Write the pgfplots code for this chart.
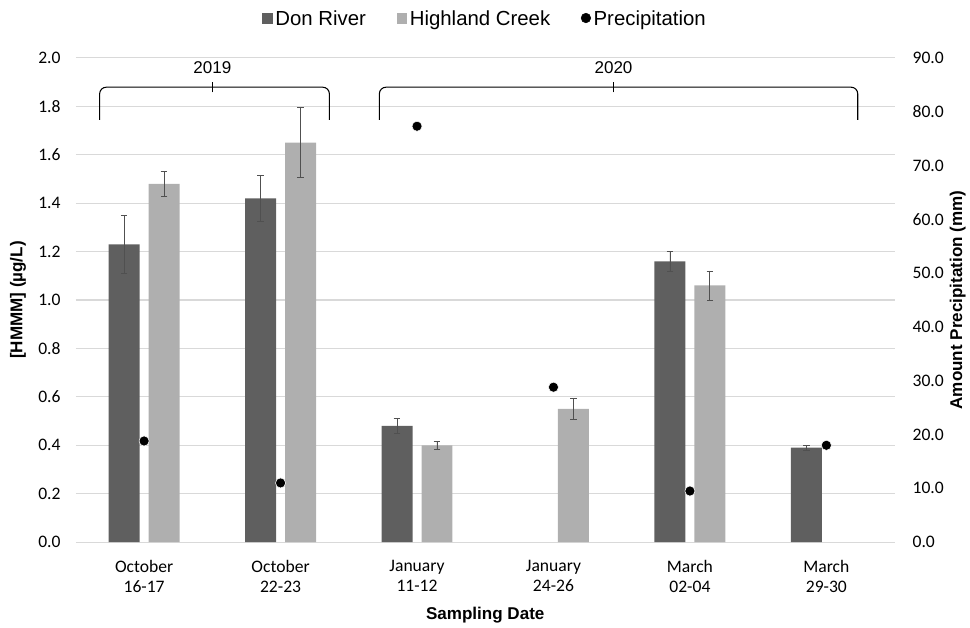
\documentclass[border=0pt]{standalone}
\usepackage{pgfplots}
\pgfplotsset{compat=1.18}
\usepackage{fontspec}
\setmainfont{Carlito}
\newfontfamily\arialf{Liberation Sans}
\definecolor{donc}{HTML}{5F5F5F}
\definecolor{hicc}{HTML}{AFAFAF}
\definecolor{gridc}{HTML}{D9D9D9}
\definecolor{errc}{HTML}{505050}
\begin{document}
\begin{tikzpicture}
\pgfplotsset{
  common/.style={
    width=615pt, height=363.75pt, scale only axis,
    xmin=-0.5, xmax=5.5,
    /pgf/number format/assume math mode=true,
    tick style={draw=none},
    ticklabel style={font=\fontsize{13.2}{15}\selectfont},
  }
}
\begin{axis}[common,
  ymin=0, ymax=2.0, ytick={0,0.2,...,2.01},
  yticklabel style={/pgf/number format/.cd, fixed, fixed zerofill, precision=1},
  yticklabel shift=8pt,
  ymajorgrids, grid style={gridc, line width=0.9pt},
  axis x line*=bottom, axis y line*=left,
  x axis line style={gridc, line width=0.9pt, -},
  y axis line style={draw=none},
  xtick={0,...,5},
  xticklabels={{October\\16-17},{October\\22-23},{January\\11-12},{January\\24-26},{March\\02-04},{March\\29-30}},
  xticklabel style={align=center, yshift=-6pt},
  xlabel={\arialf\bfseries Sampling Date},
  xlabel style={font=\fontsize{12.8}{15}\selectfont, at={(axis description cs:0.5,0)}, anchor=center, yshift=-55pt},
  ylabel={\arialf\bfseries [HMMM] (µg/L)},
  ylabel style={font=\fontsize{12.8}{15}\selectfont, at={(axis description cs:-0.0707,0.5)}, anchor=center},
  ybar=6.75pt, bar width=23.25pt,
  clip=false,
  legend columns=3,
  legend style={draw=none, at={(0.5,1.081)}, anchor=center, font=\arialf\fontsize{15.3}{17}\selectfont,
    /tikz/every even column/.append style={column sep=21pt}},
  legend image code/.code={\draw[#1, draw=none] (0pt,-4pt) rectangle (8pt,4pt);},
]
\addplot[fill=donc, draw=none, error bars/.cd, y dir=both, y explicit,
  error bar style={errc, line width=0.6pt}, error mark options={rotate=90, mark size=2.5pt, errc, line width=0.6pt}]
  coordinates {(0,1.23) +- (0,0.12) (1,1.42) +- (0,0.095) (2,0.48) +- (0,0.03) (4,1.16) +- (0,0.04) (5,0.39) +- (0,0.01)};
\addlegendentry{Don River}
\addplot[fill=hicc, draw=none, error bars/.cd, y dir=both, y explicit,
  error bar style={errc, line width=0.6pt}, error mark options={rotate=90, mark size=2.5pt, errc, line width=0.6pt}]
  coordinates {(0,1.48) +- (0,0.05) (1,1.65) +- (0,0.145) (2,0.40) +- (0,0.015) (3,0.55) +- (0,0.045) (4,1.06) +- (0,0.06)};
\addlegendentry{Highland Creek}
\addlegendimage{legend image code/.code={\fill[black] (4pt,0.5pt) circle (3.6pt);}}
\addlegendentry{Precipitation}
% year brackets
\draw[black, line width=0.8pt, rounded corners=5pt] (axis cs:-0.326,1.744) -- (axis cs:-0.326,1.879) -- (axis cs:1.358,1.879) -- (axis cs:1.358,1.744);
\draw[black, line width=0.8pt] (axis cs:0.50,1.858) -- (axis cs:0.50,1.901);
\node[font=\arialf\fontsize{12.8}{15}\selectfont] at (axis cs:0.50,1.959) {2019};
\draw[black, line width=0.8pt, rounded corners=5pt] (axis cs:1.724,1.744) -- (axis cs:1.724,1.879) -- (axis cs:5.23,1.879) -- (axis cs:5.23,1.744);
\draw[black, line width=0.8pt] (axis cs:3.44,1.858) -- (axis cs:3.44,1.901);
\node[font=\arialf\fontsize{12.8}{15}\selectfont] at (axis cs:3.44,1.959) {2020};
\end{axis}
\begin{axis}[common,
  ymin=0, ymax=90, ytick={0,10,...,90},
  yticklabel style={xshift=10pt, /pgf/number format/.cd, fixed, fixed zerofill, precision=1},
  axis y line*=right, axis x line=none,
  y axis line style={draw=none},
  ylabel={\arialf\bfseries Amount Precipitation (mm)},
  ylabel style={font=\fontsize{12.8}{15}\selectfont, at={(axis description cs:1.077,0.5)}, anchor=center},
]
\addplot[only marks, mark=*, mark size=3.8pt, mark options={fill=black, draw=white, line width=0.4pt}]
  coordinates {(0,18.8) (1,11.0) (2,77.3) (3,28.8) (4,9.5) (5,18.0)};
\end{axis}
\path (current axis.south west) ++(-57pt,-60.75pt) rectangle ++(727.5pt,468pt);
\end{tikzpicture}
\end{document}
